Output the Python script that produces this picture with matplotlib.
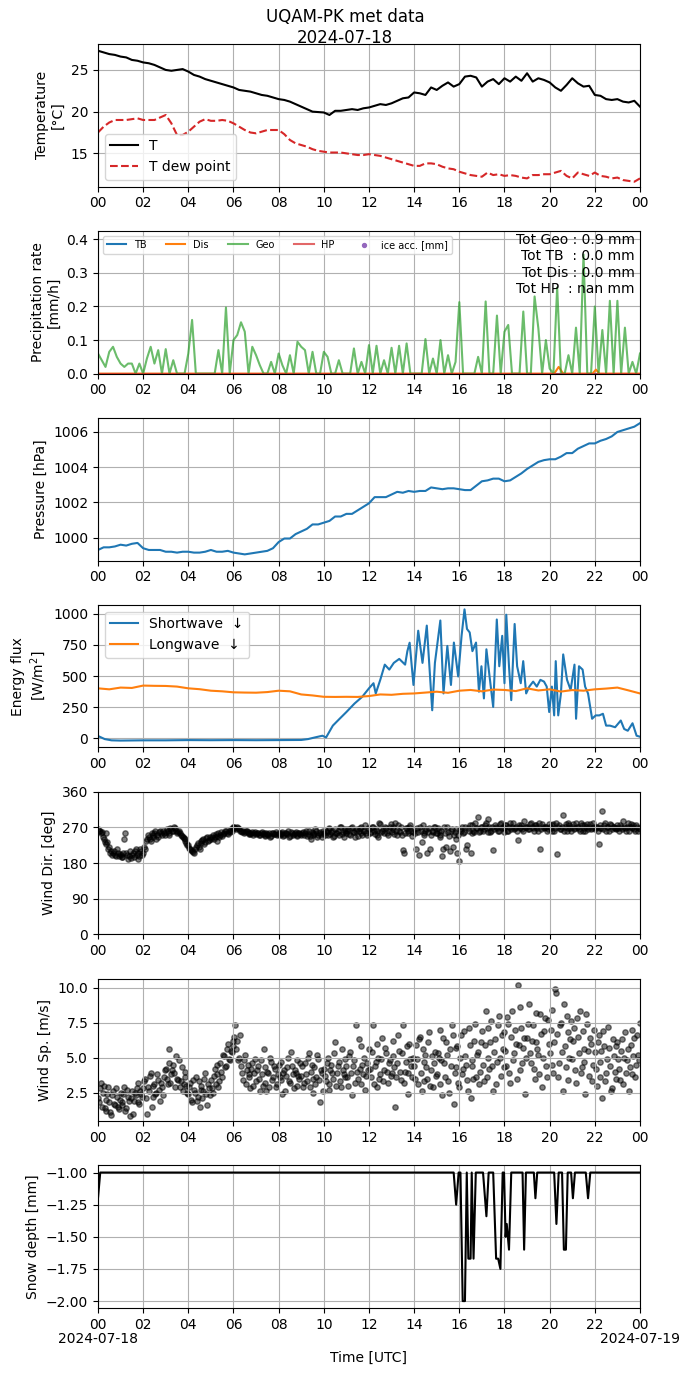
import numpy as np
import matplotlib.pyplot as plt
import matplotlib.transforms as mtransforms
from matplotlib.ticker import FuncFormatter

# temperature, 15 min steps
t_hours = np.arange(0, 24.01, 0.25)
temp = [27.3, 27.1, 26.9, 26.8, 26.6, 26.5, 26.2, 26.1, 25.9, 25.8, 25.6, 25.3,
        25.0, 24.9, 25.0, 25.1, 24.8, 24.4, 24.2, 23.9, 23.7, 23.5, 23.3, 23.1,
        22.9, 22.6, 22.5, 22.4, 22.2, 22.0, 21.9, 21.7, 21.5, 21.4, 21.2, 20.9,
        20.6, 20.3, 20.0, 19.95, 19.9, 19.6, 20.1, 20.1, 20.2, 20.3, 20.2, 20.4,
        20.5, 20.7, 20.9, 20.8, 21.0, 21.3, 21.6, 21.7, 22.3, 22.2, 22.0, 22.9,
        22.6, 23.1, 23.5, 23.0, 23.3, 24.2, 24.3, 24.1, 23.0, 23.6, 23.9, 23.3,
        24.0, 23.6, 24.2, 23.7, 24.6, 23.6, 24.0, 23.8, 23.5, 22.9, 22.5, 23.2,
        24.0, 23.4, 23.0, 23.1, 22.0, 21.9, 21.5, 21.4, 21.5, 21.2, 21.1, 21.3,
        20.6]
dewpoint = [17.5, 18.2, 18.7, 19.0, 19.0, 19.0, 19.1, 19.2, 19.0, 19.0, 19.0, 19.3,
            19.6, 18.6, 17.2, 17.2, 17.6, 18.2, 18.8, 19.1, 18.9, 18.9, 19.0, 18.9,
            18.6, 18.2, 17.8, 17.5, 17.4, 17.6, 17.8, 17.8, 17.8, 17.3, 16.6, 16.2,
            16.0, 15.8, 15.5, 15.3, 15.2, 15.1, 15.1, 15.1, 15.0, 14.9, 14.8, 14.8,
            14.9, 14.8, 14.7, 14.5, 14.3, 14.1, 13.9, 13.7, 13.5, 13.5, 13.8, 13.8,
            13.7, 13.4, 13.2, 13.1, 12.8, 12.6, 12.4, 12.3, 12.2, 12.7, 12.4, 12.5,
            12.3, 12.4, 12.3, 12.1, 12.0, 12.4, 12.4, 12.5, 12.5, 12.7, 12.9, 12.3,
            12.0, 12.7, 12.5, 12.3, 12.7, 12.3, 12.2, 12.0, 12.1, 11.8, 11.7, 11.6,
            12.0]

# precipitation, 10 min steps
p_hours = np.arange(0, 24.01, 1 / 6)
geo = [0.06, 0.04, 0.02, 0.065, 0.08, 0.05, 0.03, 0.02, 0.03, 0.03, 0.0, 0.03,
       0.0, 0.045, 0.08, 0.03, 0.07, 0.0, 0.073, 0.0, 0.04, 0.0, 0.0, 0.0,
       0.06, 0.16, 0.0, 0.0, 0.0, 0.0, 0.0, 0.0, 0.07, 0.0, 0.197, 0.0,
       0.1, 0.115, 0.153, 0.125, 0.0, 0.08, 0.055, 0.025, 0.0, 0.0, 0.035, 0.0,
       0.06, 0.025, 0.0, 0.055, 0.0, 0.095, 0.08, 0.07, 0.0, 0.065, 0.0, 0.0,
       0.065, 0.05, 0.0, 0.0, 0.04, 0.0, 0.0, 0.0, 0.075, 0.0, 0.035, 0.0,
       0.085, 0.0, 0.083, 0.0, 0.04, 0.0, 0.077, 0.0, 0.083, 0.0, 0.09, 0.0,
       0.0, 0.0, 0.0, 0.103, 0.0, 0.045, 0.0, 0.1, 0.0, 0.055, 0.0, 0.035,
       0.213, 0.0, 0.0, 0.0, 0.0, 0.05, 0.0, 0.215, 0.0, 0.0, 0.173, 0.0,
       0.125, 0.145, 0.0, 0.0, 0.0, 0.185, 0.0, 0.0, 0.23, 0.135, 0.0, 0.1,
       0.015, 0.0, 0.257, 0.0, 0.0, 0.055, 0.0, 0.137, 0.0, 0.355, 0.0, 0.0,
       0.2, 0.0, 0.13, 0.0, 0.217, 0.0, 0.217, 0.0, 0.137, 0.0, 0.035, 0.0,
       0.06]
dis_hours = [0, 20.2, 20.4, 20.6, 21.9, 22.05, 22.2, 24]
dis = [0, 0, 0.02, 0, 0, 0.012, 0, 0]
tb_hours = [0, 24]
tb = [0, 0]
hp_hours = [0, 24]
hp = [0, 0]

# pressure, 15 min steps
pres = [999.3, 999.45, 999.45, 999.5, 999.6, 999.55, 999.65, 999.7, 999.4, 999.3,
        999.3, 999.3, 999.2, 999.2, 999.15, 999.2, 999.2, 999.15, 999.15, 999.2,
        999.3, 999.2, 999.2, 999.25, 999.15, 999.1, 999.05, 999.1, 999.15, 999.2,
        999.25, 999.4, 999.75, 999.95, 999.95, 1000.2, 1000.35, 1000.5, 1000.75,
        1000.75, 1000.85, 1000.95, 1001.2, 1001.2, 1001.35, 1001.35, 1001.55,
        1001.75, 1001.95, 1002.3, 1002.3, 1002.3, 1002.45, 1002.6, 1002.55,
        1002.65, 1002.6, 1002.65, 1002.65, 1002.85, 1002.8, 1002.75, 1002.8,
        1002.8, 1002.75, 1002.7, 1002.7, 1002.95, 1003.2, 1003.25, 1003.35,
        1003.35, 1003.2, 1003.25, 1003.45, 1003.65, 1003.9, 1004.1, 1004.3,
        1004.4, 1004.45, 1004.45, 1004.6, 1004.8, 1004.8, 1005.05, 1005.2,
        1005.35, 1005.35, 1005.5, 1005.6, 1005.75, 1006.0, 1006.1, 1006.2,
        1006.3, 1006.5]

# radiation
sw_hours = [0, 0.3, 0.6, 1, 2, 3, 4, 5, 6, 7, 8, 9, 9.3,
            9.6, 9.94, 10.1, 10.4, 10.7, 11.0, 11.36, 11.7, 12.0, 12.2, 12.3,
            12.5, 12.7, 12.9, 13.1, 13.34, 13.6, 13.7, 13.8, 13.97, 14.18,
            14.37, 14.56, 14.8, 14.92, 15.16, 15.3, 15.47, 15.63, 15.76, 15.95,
            16.1, 16.23, 16.34, 16.46, 16.58, 16.74, 16.87, 16.98, 17.09, 17.2,
            17.34, 17.5, 17.66, 17.77, 17.9, 18.0, 18.08, 18.2, 18.3, 18.45,
            18.56, 18.72, 18.83, 18.96, 19.1, 19.27, 19.43, 19.59, 19.75, 19.87,
            19.98, 20.1, 20.2, 20.27, 20.38, 20.5, 20.6, 20.77, 20.93, 21.1,
            21.17, 21.3, 21.46, 21.57, 21.7, 21.88, 22.04, 22.2, 22.36, 22.5,
            22.67, 22.9, 23.15, 23.3, 23.46, 23.67, 23.85, 24.0]
sw = [20, -5, -15, -17, -15, -15, -13, -14, -13, -14, -13, -12, -5,
      8, 22, 8, 103, 158, 212, 280, 334, 402, 443, 361,
      470, 592, 552, 606, 638, 592, 700, 768, 429, 864,
      606, 905, 226, 606, 946, 361, 742, 429, 769, 497,
      823, 1035, 878, 850, 700, 769, 375, 579, 321, 715,
      497, 253, 954, 579, 823, 443, 992, 579, 307, 918,
      579, 443, 620, 361, 416, 456, 416, 470, 456, 416,
      212, 416, 185, 620, 185, 361, 674, 470, 389, 592,
      158, 579, 552, 416, 361, 158, 185, 185, 198, 103,
      103, 90, 144, 76, 62, 122, 22, 14]
lw_hours = np.arange(0, 24.01, 0.5)
lw = [402, 394, 408, 405, 424, 422, 421, 416, 402, 395, 383, 378, 370, 368,
      367, 372, 383, 378, 353, 345, 334, 333, 334, 333, 340, 353, 350, 358,
      361, 368, 375, 366, 383, 389, 378, 392, 389, 380, 402, 385, 394, 376,
      388, 383, 394, 400, 408, 385, 361]

# wind, 5 min steps, plus a second reading between each pair
w_hours = np.arange(0, 24.01, 1 / 12)
w_hours2 = np.arange(1 / 24, 24, 1 / 12)
wdir = [265, 262, 258, 240, 255, 232, 220, 210, 205, 200, 215, 198,
        200, 195, 240, 205, 190, 210, 200, 195, 215, 205, 198, 210,
        205, 215, 240, 245, 235, 250, 255, 240, 245, 260, 250, 255,
        258, 262, 250, 265, 260, 268, 255, 262, 250, 245, 240, 230,
        225, 215, 210, 205, 220, 230, 215, 235, 240, 232, 245, 238,
        240, 250, 245, 235, 255, 250, 248, 255, 260, 252, 258, 262,
        270, 268, 272, 265, 262, 260, 258, 262, 255, 252, 258, 255,
        252, 255, 250, 258, 255, 250, 253, 256, 248, 255, 252, 250,
        255, 252, 258, 250, 255, 262, 248, 255, 252, 258, 250, 255,
        250, 258, 255, 248, 262, 240, 255, 252, 260, 250, 258, 245,
        255, 262, 250, 268, 258, 245, 265, 255, 250, 270, 258, 262,
        255, 265, 250, 272, 258, 262, 248, 268, 255, 260, 275, 250,
        265, 258, 270, 252, 262, 245, 278, 260, 255, 268, 250, 272,
        258, 265, 280, 250, 262, 270, 212, 255, 268, 260, 275, 248,
        265, 215, 258, 270, 232, 255, 262, 205, 268, 250, 258, 272,
        255, 262, 245, 198, 270, 220, 258, 210, 265, 250, 240, 205,
        185, 262, 255, 270, 225, 262, 206, 275, 258, 268, 295, 262,
        270, 265, 280, 258, 272, 262, 213, 275, 268, 260, 282, 270,
        268, 275, 262, 280, 270, 265, 272, 238, 268, 275, 262, 270,
        272, 265, 282, 268, 275, 270, 262, 215, 278, 268, 272, 265,
        270, 262, 278, 268, 202, 275, 265, 300, 270, 262, 280, 268,
        272, 265, 282, 270, 262, 275, 268, 260, 278, 272, 265, 280,
        265, 272, 227, 268, 310, 275, 262, 270, 278, 265, 272, 268,
        275, 262, 270, 285, 268, 272, 262, 278, 270, 265, 275, 262,
        265]
wdir2 = [262, 255, 245, 232, 228, 215, 205, 200, 210, 198, 205, 202,
         195, 205, 255, 200, 198, 192, 205, 210, 200, 190, 215, 200,
         220, 235, 250, 240, 255, 245, 260, 250, 258, 255, 262, 250,
         265, 255, 268, 260, 270, 262, 258, 255, 248, 242, 235, 225,
         218, 212, 208, 215, 225, 220, 230, 238, 228, 242, 235, 245,
         245, 240, 252, 248, 245, 258, 252, 260, 255, 262, 265, 268,
         272, 265, 268, 262, 258, 255, 262, 258, 252, 255, 250, 258,
         256, 250, 255, 252, 248, 256, 250, 245, 255, 252, 258, 254,
         250, 255, 248, 256, 252, 245, 258, 250, 255, 248, 256, 252,
         255, 250, 262, 252, 248, 258, 250, 265, 245, 255, 252, 260,
         250, 258, 265, 252, 260, 248, 255, 262, 270, 252, 245, 265,
         262, 252, 268, 258, 245, 265, 260, 272, 250, 262, 255, 268,
         255, 272, 260, 265, 250, 282, 258, 265, 270, 255, 262, 278,
         270, 252, 262, 275, 258, 250, 206, 268, 255, 272, 262, 258,
         255, 268, 201, 262, 275, 250, 265, 258, 215, 262, 270, 255,
         268, 250, 262, 215, 255, 270, 248, 262, 220, 258, 265, 250,
         265, 270, 258, 215, 268, 275, 255, 262, 280, 268, 258, 272,
         262, 275, 268, 290, 258, 272, 265, 270, 262, 278, 268, 258,
         275, 262, 270, 265, 282, 268, 260, 275, 272, 265, 285, 270,
         265, 278, 270, 262, 275, 268, 282, 265, 272, 270, 262, 278,
         268, 275, 262, 280, 270, 265, 272, 260, 278, 268, 275, 262,
         278, 268, 272, 265, 280, 262, 275, 270, 265, 278, 268, 272,
         270, 262, 275, 268, 265, 280, 270, 262, 275, 272, 268, 265,
         268, 275, 265, 272, 262, 280, 270, 268, 275, 262, 270, 268]
wspd = [2.1, 2.8, 1.5, 3.0, 1.2, 2.4, 1.8, 0.9, 2.6, 1.6, 2.2, 1.3,
        2.5, 1.8, 2.9, 1.4, 2.2, 0.8, 2.6, 1.9, 2.3, 3.2, 1.7, 2.4,
        2.8, 3.5, 1.0, 2.6, 3.9, 2.2, 3.1, 2.5, 3.4, 1.9, 2.9, 3.6,
        4.2, 3.1, 5.6, 3.8, 4.5, 2.9, 3.5, 4.8, 3.3, 2.6, 4.0, 3.0,
        2.4, 3.2, 1.8, 2.7, 3.6, 2.2, 1.5, 3.0, 2.6, 3.9, 1.6, 2.8,
        3.4, 2.5, 4.2, 3.8, 2.9, 4.6, 3.6, 5.1, 4.4, 6.0, 4.8, 5.4,
        5.8, 7.3, 6.2, 5.0, 4.4, 3.4, 5.2, 4.1, 3.6, 2.8, 4.6, 3.9,
        3.3, 4.4, 2.6, 3.8, 5.6, 3.2, 4.0, 2.9, 4.7, 3.6, 4.2, 3.1,
        4.5, 3.4, 2.4, 4.1, 3.7, 5.0, 3.2, 4.4, 2.8, 3.9, 4.8, 3.5,
        3.7, 2.9, 4.6, 3.3, 5.3, 4.0, 2.5, 4.3, 3.6, 4.9, 1.8, 3.9,
        4.2, 3.3, 5.0, 2.7, 4.5, 3.5, 6.1, 3.9, 4.7, 2.9, 4.1, 3.6,
        4.4, 3.0, 5.4, 2.3, 4.8, 7.3, 3.5, 4.2, 5.8, 3.8, 2.7, 4.6,
        5.6, 3.6, 7.3, 4.4, 2.9, 5.0, 3.8, 6.4, 4.1, 5.3, 3.2, 4.8,
        3.9, 6.2, 1.5, 4.6, 5.5, 3.4, 7.3, 4.0, 5.8, 2.4, 4.9, 3.6,
        4.4, 5.9, 3.1, 6.5, 2.6, 4.7, 5.2, 3.5, 6.8, 4.1, 2.9, 5.4,
        3.8, 5.0, 7.0, 2.3, 4.6, 6.1, 3.3, 5.6, 7.3, 1.7, 4.3, 5.8,
        2.9, 6.6, 4.2, 5.1, 3.4, 7.1, 2.1, 4.8, 6.2, 3.6, 5.4, 4.0,
        6.9, 3.3, 8.3, 5.0, 4.2, 7.6, 2.6, 6.3, 4.7, 8.0, 3.7, 5.6,
        6.8, 4.4, 7.4, 3.2, 8.3, 5.3, 6.0, 10.2, 4.1, 7.1, 5.7, 2.4,
        6.4, 8.8, 4.6, 7.3, 3.5, 6.1, 5.2, 8.1, 2.9, 6.9, 4.4, 7.7,
        5.3, 8.4, 3.9, 9.9, 6.7, 4.6, 7.5, 2.6, 5.8, 8.0, 3.4, 6.3,
        4.9, 7.1, 3.2, 6.5, 8.3, 4.3, 5.6, 2.4, 7.4, 3.7, 6.0, 4.5,
        5.4, 3.0, 6.6, 4.7, 2.1, 5.8, 3.9, 7.2, 4.4, 2.8, 5.1, 3.5,
        6.1, 4.2, 5.5, 3.1, 6.8, 4.8, 2.6, 5.9, 3.8, 6.4, 4.5, 5.2,
        7.5]
wspd2 = [1.8, 3.2, 2.5, 1.4, 2.0, 2.9, 1.1, 2.3, 1.7, 2.8, 1.5, 2.0,
         1.6, 2.4, 1.2, 2.7, 1.9, 2.1, 1.0, 2.5, 2.8, 1.8, 2.6, 2.2,
         3.3, 2.1, 2.9, 3.7, 1.5, 3.0, 2.4, 3.8, 2.7, 3.2, 2.3, 4.1,
         3.5, 4.6, 3.2, 4.1, 3.9, 5.1, 3.4, 2.9, 4.3, 3.1, 3.6, 2.5,
         2.9, 2.0, 3.4, 2.5, 1.9, 3.3, 2.7, 2.1, 3.5, 2.4, 3.1, 2.3,
         2.8, 3.7, 3.1, 4.5, 3.3, 4.0, 5.2, 4.3, 5.6, 4.9, 5.5, 6.2,
         6.5, 5.6, 4.8, 6.6, 3.9, 4.8, 3.1, 4.5, 3.8, 4.2, 3.0, 4.9,
         4.1, 3.5, 4.8, 3.0, 4.3, 2.6, 3.9, 5.0, 3.4, 4.4, 2.9, 3.8,
         3.6, 4.7, 3.9, 2.6, 4.3, 3.3, 5.4, 3.8, 4.1, 3.0, 3.7, 4.6,
         4.4, 3.2, 3.8, 5.0, 2.9, 4.5, 3.5, 3.1, 5.2, 3.4, 4.1, 2.6,
         3.7, 4.6, 3.1, 4.1, 3.9, 5.3, 3.0, 4.4, 3.3, 5.6, 3.8, 4.9,
         3.6, 5.1, 3.9, 4.4, 3.2, 4.0, 6.3, 3.1, 4.5, 5.0, 3.7, 4.1,
         4.2, 5.4, 3.1, 4.7, 6.0, 3.5, 4.9, 3.3, 5.7, 4.0, 4.6, 3.7,
         5.1, 4.3, 3.6, 6.6, 4.0, 5.3, 3.2, 4.7, 3.9, 6.0, 4.4, 5.0,
         3.5, 4.9, 6.3, 3.9, 5.6, 3.3, 4.3, 6.1, 3.0, 5.1, 4.6, 3.7,
         5.3, 3.1, 4.8, 6.4, 3.6, 5.2, 2.5, 4.4, 6.6, 3.9, 5.7, 3.2,
         5.0, 3.8, 6.9, 4.5, 2.6, 5.9, 4.4, 3.5, 7.4, 5.2, 3.1, 6.1,
         4.5, 5.9, 3.6, 7.1, 6.1, 4.4, 5.4, 3.1, 7.3, 5.0, 6.6, 4.3,
         5.5, 7.9, 3.9, 6.5, 4.8, 7.0, 3.5, 5.9, 8.6, 4.6, 6.4, 5.0,
         7.4, 5.3, 6.2, 4.2, 8.2, 5.6, 3.8, 6.7, 5.0, 7.8, 3.6, 6.0,
         7.0, 4.5, 6.1, 9.6, 3.6, 7.3, 5.4, 8.8, 4.3, 6.8, 5.0, 7.6,
         6.2, 4.1, 7.8, 5.3, 3.9, 6.9, 4.7, 8.1, 5.5, 6.4, 3.3, 7.0,
         4.2, 6.1, 3.6, 5.5, 6.9, 3.3, 4.9, 5.7, 2.6, 6.3, 4.0, 5.8,
         4.9, 3.4, 6.3, 5.0, 3.9, 5.6, 4.3, 7.0, 5.1, 3.6, 6.6, 4.8]

# snow depth
snow_hours = [0, 0.1, 15.75, 15.86, 15.97, 16.05, 16.15, 16.25, 16.33, 16.4, 16.5,
              16.55, 16.63, 16.73, 17.05, 17.2, 17.3, 17.5, 17.63, 17.72, 17.82,
              17.92, 17.98, 18.05, 18.1, 18.2, 18.3, 18.8, 18.87, 18.95, 19.3,
              19.37, 19.45, 20.2, 20.3, 20.4, 20.55, 20.63, 20.72, 20.8, 20.95,
              21.03, 21.12, 21.6, 21.7, 21.8, 24]
snow = [-1.2, -1.0, -1.0, -1.25, -1.0, -1.0, -2.0, -2.0, -1.0, -1.67, -1.67,
        -1.0, -1.67, -1.0, -1.0, -1.34, -1.0, -1.0, -1.67, -1.67, -1.75,
        -1.0, -1.0, -1.5, -1.4, -1.6, -1.0, -1.0, -1.6, -1.0, -1.0,
        -1.2, -1.0, -1.0, -1.4, -1.0, -1.0, -1.6, -1.6, -1.0, -1.0,
        -1.2, -1.0, -1.0, -1.2, -1.0, -1.0]

day0 = '2024-07-18'
day1 = '2024-07-19'


def hour_fmt(x, pos):
    return '%02d' % (int(round(x)) % 24)


fig, axs = plt.subplots(7, 1, figsize=(6.9, 13.77), dpi=100)
fig.subplots_adjust(left=0.142, right=0.9275, top=0.968, bottom=0.05, hspace=0.31)
fig.suptitle('UQAM-PK met data\n' + day0, y=0.994, fontsize=12)

# Temperature
ax = axs[0]
ax.plot(t_hours, temp, color='black', label='T')
ax.plot(t_hours, dewpoint, color='tab:red', ls='--', label='T dew point')
ax.set_ylabel('Temperature\n[°C]')
ax.set_ylim(11.0, 28.1)
ax.legend(loc='lower left')

# Precipitation
ax = axs[1]
ax.plot(tb_hours, tb, color='tab:blue', label='TB')
ax.plot(dis_hours, dis, color='tab:orange', label='Dis')
ax.plot(p_hours, geo, color='tab:green', alpha=0.7, label='Geo')
ax.plot(hp_hours, hp, color='tab:red', alpha=0.7, label='HP')
ax.scatter([], [], color='tab:purple', s=8, label='ice acc. [mm]')
ax.set_ylim(0, 0.425)
ax.set_ylabel('Precipitation rate\n[mm/h]')
ax.legend(loc='upper left', ncol=5, fontsize=7)
ax.text(0.99, 0.985, 'Tot Geo : 0.9 mm\nTot TB  : 0.0 mm\nTot Dis : 0.0 mm\nTot HP  : nan mm',
        transform=ax.transAxes, ha='right', va='top', multialignment='right')

# Pressure
ax = axs[2]
ax.plot(t_hours, pres, color='tab:blue')
ax.set_ylim(998.7, 1006.8)
ax.set_ylabel('Pressure [hPa]')

# Radiation
ax = axs[3]
ax.plot(sw_hours, sw, color='tab:blue', label='Shortwave  ↓')
ax.plot(lw_hours, lw, color='tab:orange', label='Longwave  ↓')
ax.set_ylim(-72, 1072)
ax.set_ylabel('Energy flux\n[W/m$^2$]')
ax.legend(loc='upper left')

# Wind direction
ax = axs[4]
ax.scatter(w_hours, wdir, color='black', alpha=0.5, s=15)
ax.scatter(w_hours2, wdir2, color='black', alpha=0.5, s=15)
ax.set_ylim(0, 360)
ax.set_yticks([0, 90, 180, 270, 360])
ax.set_ylabel('Wind Dir. [deg]')

# Wind speed
ax = axs[5]
ax.scatter(w_hours, wspd, color='black', alpha=0.5, s=15)
ax.scatter(w_hours2, wspd2, color='black', alpha=0.5, s=15)
ax.set_ylim(0.45, 10.65)
ax.set_yticks([2.5, 5.0, 7.5, 10.0])
ax.set_ylabel('Wind Sp. [m/s]')

# Snow depth
ax = axs[6]
ax.plot(snow_hours, snow, color='black')
ax.set_ylim(-2.055, -0.945)
ax.set_ylabel('Snow depth [mm]')
ax.set_xlabel('Time [UTC]', labelpad=14)

for ax in axs:
    ax.set_xlim(0, 24)
    ax.set_xticks(np.arange(0, 25, 2))
    ax.xaxis.set_major_formatter(FuncFormatter(hour_fmt))
    ax.grid(True)

# date under the first and last tick of the bottom panel
trans = mtransforms.blended_transform_factory(axs[6].transData, axs[6].transAxes)
axs[6].text(0, -0.165, day0, transform=trans, ha='center', va='top')
axs[6].text(24, -0.165, day1, transform=trans, ha='center', va='top')

fig.savefig('out.png')
